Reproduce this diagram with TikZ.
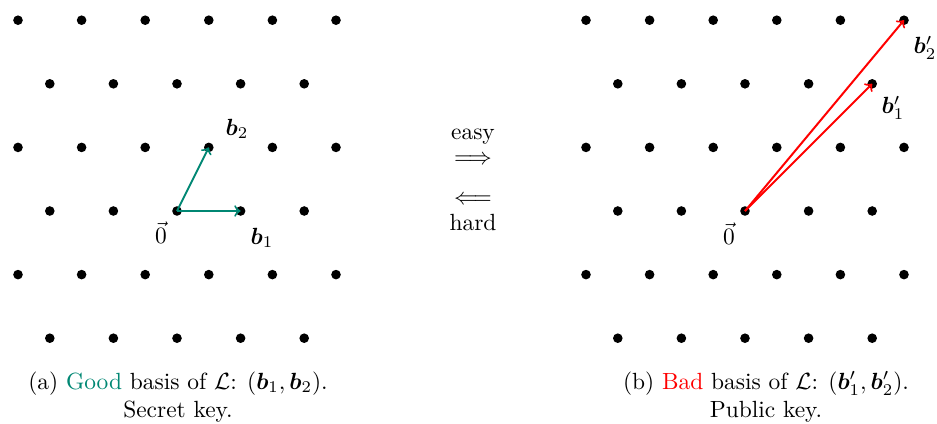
\documentclass[tikz,border=0pt]{standalone}
\usepackage{amsmath,amssymb,bm}
\definecolor{goodc}{RGB}{0,135,115}
\definecolor{badc}{RGB}{255,0,0}
\tikzset{
  vecarrow/.style={->,line width=0.85pt},
  lbl/.style={inner sep=0pt},
}
\begin{document}
\begin{tikzpicture}[x=0.427pt,y=-0.427pt]
\useasboundingbox (0,0) rectangle (937,423);
% left lattice
\begin{scope}[shift={(177,211)}]
  \foreach \j in {-2,0,2} \foreach \i in {-2,...,2}
    \fill ({63.6*\i},{-63.6*\j}) circle (4.8);
  \foreach \j in {-1,1,3} \foreach \i in {-2.5,-1.5,-0.5,0.5,1.5,2.5}
    \fill ({63.6*\i},{-63.6*\j}) circle (4.8);
  \coordinate (oL) at (0,0);
  \coordinate (b1) at (63.6,0);
  \coordinate (b2) at (31.8,-63.6);
  \draw[vecarrow,goodc] (oL) -- (b1);
  \draw[vecarrow,goodc] (oL) -- (b2);
  \node[lbl] (zL) at (-16,22) {$\vec{0}$};
  \node[lbl] (lb1) at (85,27) {$\bm{b}_1$};
  \node[lbl] (lb2) at (60,-82) {$\bm{b}_2$};
\end{scope}
% right lattice
\begin{scope}[shift={(745,211)}]
  \foreach \j in {-2,0,2} \foreach \i in {-2,...,2}
    \fill ({63.6*\i},{-63.6*\j}) circle (4.8);
  \foreach \j in {-1,1,3} \foreach \i in {-2.5,-1.5,-0.5,0.5,1.5,2.5}
    \fill ({63.6*\i},{-63.6*\j}) circle (4.8);
  \coordinate (oR) at (0,0);
  \coordinate (c1) at (127.2,-127.2);
  \coordinate (c2) at (159,-190.8);
  \draw[vecarrow,badc] (oR) -- (c1);
  \draw[vecarrow,badc] (oR) -- (c2);
  \node[lbl] (zR) at (-16,23) {$\vec{0}$};
  \node[lbl] (lc1) at (148,-103) {$\bm{b}_1'$};
  \node[lbl] (lc2) at (180,-163) {$\bm{b}_2'$};
\end{scope}
% middle arrows
\node[lbl] (easy) at (473,137) {easy};
\node[lbl] (rarr) at (473,160) {$\Longrightarrow$};
\node[lbl] (larr) at (473,200) {$\Longleftarrow$};
\node[lbl] (hard) at (473,222) {hard};
% captions
\node[align=center,inner sep=0pt] (capA) at (178,397) {(a) \textcolor{goodc}{Good} basis of $\mathcal{L}$: $(\bm{b}_1,\bm{b}_2)$.\\ Secret key.};
\node[align=center,inner sep=0pt] (capB) at (766,397) {(b) \textcolor{badc}{Bad} basis of $\mathcal{L}$: $(\bm{b}_1',\bm{b}_2')$.\\ Public key.};
\end{tikzpicture}
\end{document}
